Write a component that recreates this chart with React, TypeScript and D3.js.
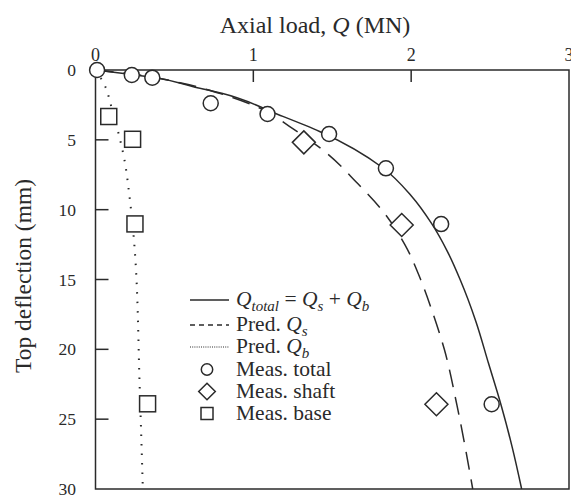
import React from "react";
import * as d3 from "d3";

// Measured data (Q in MN, deflection in mm)
const measTotalQ = [0.01, 0.23, 0.36, 0.73, 1.09, 1.48, 1.84, 2.19, 2.51];
const measTotalD = [0, 0.36, 0.55, 2.38, 3.15, 4.58, 7.04, 11.03, 23.93];
const measShaftQ = [1.32, 1.94, 2.16];
const measShaftD = [5.18, 11.1, 23.93];
const measBaseQ = [0.084, 0.235, 0.25, 0.33];
const measBaseD = [3.33, 4.96, 11.02, 23.9];

// Predicted curves
const totalQ = [0, 0.23, 0.36, 0.62, 0.8, 1.16, 1.42, 1.82, 2.0, 2.13, 2.23, 2.31, 2.41, 2.49, 2.57, 2.64, 2.7];
const totalD = [0, 0.33, 0.52, 1.2, 1.67, 3.2, 4.4, 7.0, 9.0, 11.0, 13.0, 15.0, 18.0, 21.0, 24.0, 27.0, 30.0];
const shaftQ = [0, 0.3, 0.55, 0.8, 1.02, 1.25, 1.47, 1.65, 1.82, 1.96, 2.06, 2.14, 2.21, 2.29, 2.39];
const shaftD = [0, 0.4, 0.95, 1.72, 2.62, 4.2, 6.0, 8.0, 10.1, 12.5, 15.0, 17.5, 20.0, 24.0, 30.0];
const baseQ = [0, 0.04, 0.07, 0.09, 0.145, 0.176, 0.22, 0.25, 0.28, 0.3];
const baseD = [0, 0.7, 1.4, 2.2, 4.5, 6.0, 9.5, 13.1, 22.7, 30.0];

const xTicks = [0, 1, 2, 3];
const yTicks = [0, 5, 10, 15, 20, 25, 30];

const W = 571;
const H = 496;
const FONT = "'Liberation Serif', 'Times New Roman', serif";
const INK = "#2a2a2a";

export default function App() {
  const x = d3.scaleLinear().domain([0, 3]).range([95.5, 569]);
  const y = d3.scaleLinear().domain([0, 30]).range([70, 489]);

  const line = d3
    .line<[number, number]>()
    .x((d) => x(d[0]))
    .y((d) => y(d[1]))
    .curve(d3.curveMonotoneY);

  const zip = (a: number[], b: number[]) => a.map((v, i) => [v, b[i]] as [number, number]);

  const diamond = (cx: number, cy: number, r: number) =>
    `M${cx},${cy - r}L${cx + r},${cy}L${cx},${cy + r}L${cx - r},${cy}Z`;

  const legX0 = 190;
  const legX1 = 229;
  const legMX = 207;
  const legTX = 236;
  const rows = [306, 331, 353, 376, 398, 420];

  return (
    <svg
      width={W}
      height={H}
      style={{ position: "absolute", left: 0, top: 0, background: "#fff" }}
      fontFamily={FONT}
    >
      <rect x={0} y={0} width={W} height={H} fill="#fff" />
      {/* curves */}
      <path d={line(zip(totalQ, totalD)) || ""} fill="none" stroke={INK} strokeWidth={1.5} />
      <path
        d={line(zip(shaftQ, shaftD)) || ""}
        fill="none"
        stroke={INK}
        strokeWidth={1.5}
        strokeDasharray="18,10"
      />
      <path
        d={line(zip(baseQ, baseD)) || ""}
        fill="none"
        stroke={INK}
        strokeWidth={2}
        strokeDasharray="1.5,8"
      />

      {/* frame */}
      <rect x={x(0)} y={y(0)} width={x(3) - x(0)} height={y(30) - y(0)} fill="none" stroke={INK} strokeWidth={1.5} />

      {/* x ticks (top, inward) */}
      {xTicks.map((t) => (
        <g key={"xt" + t}>
          {t > 0 && t < 3 && <line x1={x(t)} x2={x(t)} y1={y(0)} y2={y(0) + 12} stroke={INK} strokeWidth={1.5} />}
          <text x={x(t)} y={61} textAnchor="middle" fontSize={18} fill={INK}>
            {t}
          </text>
        </g>
      ))}
      {/* y ticks (left, inward) */}
      {yTicks.map((t) => (
        <g key={"yt" + t}>
          {t > 0 && t < 30 && <line x1={x(0)} x2={x(0) + 13} y1={y(t)} y2={y(t)} stroke={INK} strokeWidth={1.5} />}
          <text x={76} y={y(t) + 6} textAnchor="end" fontSize={17.5} fill={INK}>
            {t}
          </text>
        </g>
      ))}

      {/* axis titles */}
      <text x={315} y={33} textAnchor="middle" fontSize={24} fill={INK}>
        Axial load, <tspan fontStyle="italic">Q</tspan> (MN)
      </text>
      <text transform="translate(31,276) rotate(-90)" textAnchor="middle" fontSize={23.5} fill={INK}>
        Top deflection (mm)
      </text>

      {/* measured points */}
      {measBaseQ.map((q, i) => (
        <rect key={"b" + i} x={x(q) - 8} y={y(measBaseD[i]) - 8} width={16} height={16} fill="#fff" stroke={INK} strokeWidth={1.5} />
      ))}
      {measShaftQ.map((q, i) => (
        <path key={"s" + i} d={diamond(x(q), y(measShaftD[i]), 11.5)} fill="#fff" stroke={INK} strokeWidth={1.5} />
      ))}
      {measTotalQ.map((q, i) => (
        <circle key={"t" + i} cx={x(q)} cy={y(measTotalD[i])} r={7.5} fill="#fff" stroke={INK} strokeWidth={1.5} />
      ))}

      {/* legend */}
      <g fontSize={21.5} fill={INK}>
        <line x1={legX0} x2={legX1} y1={rows[0] - 6} y2={rows[0] - 6} stroke={INK} strokeWidth={1.5} />
        <text x={legTX} y={rows[0]}>
          <tspan fontStyle="italic">Q</tspan>
          <tspan fontStyle="italic" fontSize={15} dy={5}>total</tspan>
          <tspan dy={-5}> = </tspan>
          <tspan fontStyle="italic">Q</tspan>
          <tspan fontStyle="italic" fontSize={15} dy={5}>s</tspan>
          <tspan dy={-5}> + </tspan>
          <tspan fontStyle="italic">Q</tspan>
          <tspan fontStyle="italic" fontSize={15} dy={5}>b</tspan>
        </text>

        <line x1={legX0} x2={legX1} y1={rows[1] - 6} y2={rows[1] - 6} stroke={INK} strokeWidth={1.3} strokeDasharray="5,4" />
        <text x={legTX} y={rows[1]}>
          Pred. <tspan fontStyle="italic">Q</tspan>
          <tspan fontStyle="italic" fontSize={15} dy={5}>s</tspan>
        </text>

        <line x1={legX0} x2={legX1} y1={rows[2] - 6} y2={rows[2] - 6} stroke={INK} strokeWidth={1} strokeDasharray="1,1.2" />
        <text x={legTX} y={rows[2]}>
          Pred. <tspan fontStyle="italic">Q</tspan>
          <tspan fontStyle="italic" fontSize={15} dy={5}>b</tspan>
        </text>

        <circle cx={legMX} cy={rows[3] - 6.5} r={5.7} fill="#fff" stroke={INK} strokeWidth={1.5} />
        <text x={legTX} y={rows[3]}>Meas. total</text>

        <path d={diamond(legMX, rows[4] - 6.5, 8.3)} fill="#fff" stroke={INK} strokeWidth={1.5} />
        <text x={legTX} y={rows[4]}>Meas. shaft</text>

        <rect x={legMX - 6} y={rows[5] - 6.5 - 6} width={12} height={12} fill="#fff" stroke={INK} strokeWidth={1.5} />
        <text x={legTX} y={rows[5]}>Meas. base</text>
      </g>
    </svg>
  );
}
